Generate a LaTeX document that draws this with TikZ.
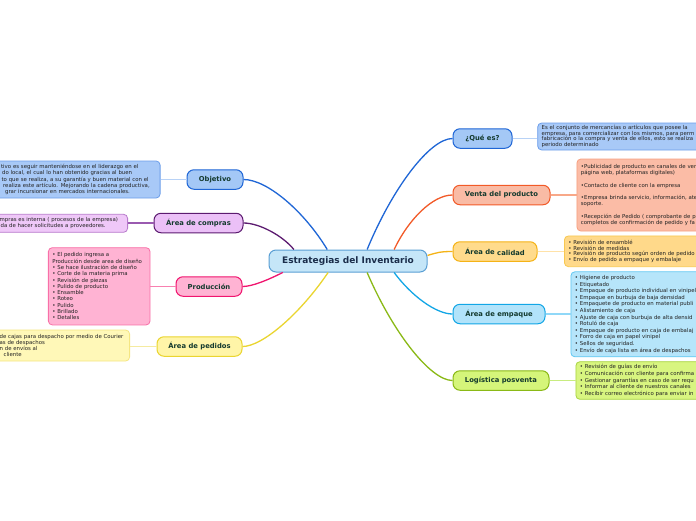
\documentclass[tikz,border=0pt]{standalone}
\usepackage{fontspec}
\setmainfont{DejaVu Sans}
\usetikzlibrary{calc}
\definecolor{cenfill}{HTML}{C5E6F8}
\definecolor{cenline}{HTML}{5A9FD4}
\definecolor{titlecol}{HTML}{1B2E4B}
\definecolor{labelcol}{HTML}{143A2E}
\definecolor{smallcol}{HTML}{222222}
% Objetivo / Que es (blue)
\definecolor{bluefill}{HTML}{A4C8F6}
\definecolor{blueline}{HTML}{1F66D6}
\definecolor{bluetfill}{HTML}{A8C9F7}
\definecolor{bluetline}{HTML}{6C9EEA}
\definecolor{bluelink}{HTML}{B8D2F6}
% compras (purple)
\definecolor{purfill}{HTML}{EBC0F7}
\definecolor{purline}{HTML}{5C1B70}
\definecolor{purtfill}{HTML}{EFC8F8}
\definecolor{purtline}{HTML}{B77ACB}
\definecolor{purlink}{HTML}{9A5AB0}
% produccion (pink)
\definecolor{pinkfill}{HTML}{FFB3D3}
\definecolor{pinkline}{HTML}{F0146E}
\definecolor{pinktline}{HTML}{F870A8}
\definecolor{pinklink}{HTML}{F880B0}
% pedidos (yellow)
\definecolor{yelfill}{HTML}{FFF5A8}
\definecolor{yelline}{HTML}{EAD530}
\definecolor{yeltfill}{HTML}{FFF8B8}
\definecolor{yeltline}{HTML}{F5E682}
\definecolor{yellink}{HTML}{F5EBA0}
% venta (orange)
\definecolor{orfill}{HTML}{F9BBA5}
\definecolor{orline}{HTML}{F25A28}
\definecolor{ortfill}{HTML}{FBBCA6}
\definecolor{ortline}{HTML}{F8A080}
\definecolor{orlink}{HTML}{F8A888}
% calidad (gold)
\definecolor{golfill}{HTML}{FFDB8C}
\definecolor{golline}{HTML}{F5B316}
\definecolor{goltfill}{HTML}{FFD98A}
\definecolor{goltline}{HTML}{F8C850}
\definecolor{gollink}{HTML}{FFE2A8}
% empaque (cyan)
\definecolor{cyfill}{HTML}{B2E3FA}
\definecolor{cyline}{HTML}{12A6E6}
\definecolor{cytfill}{HTML}{B6E5FA}
\definecolor{cytline}{HTML}{60C8F2}
\definecolor{cylink}{HTML}{90D8F8}
% logistica (green)
\definecolor{grfill}{HTML}{D5F57A}
\definecolor{grline}{HTML}{8AB916}
\definecolor{grtfill}{HTML}{D8F580}
\definecolor{grtline}{HTML}{A8D440}
\definecolor{grlink}{HTML}{C8EC80}
\newcommand{\nbl}[1]{\mbox{#1}}
\begin{document}
\begin{tikzpicture}[x=1pt,y=-1pt,
  lbl/.style={draw, line width=1pt, rounded corners=7pt, inner sep=0pt,
    font=\fontsize{6.8}{8}\selectfont\bfseries, text=labelcol, minimum height=19.5pt},
  tbox/.style={draw, line width=0.8pt, rounded corners=4pt, inner ysep=0pt, inner xsep=4pt,
    align=left, font=\fontsize{5.4}{6.3}\selectfont, text=smallcol},
  conn/.style={line width=1.3pt},
  link/.style={line width=1.1pt}]
\useasboundingbox (0,0) rectangle (696,520);
\fill[white] (0,0) rectangle (696,520);
\clip (0,0) rectangle (696,520);

% center
\node[lbl, fill=cenfill, draw=cenline, minimum width=158pt, minimum height=22pt,
  font=\fontsize{9}{11}\selectfont\bfseries, text=titlecol] (c) at (348,261) {Estrategias del Inventario};

% left branches
\node[lbl, fill=bluefill, draw=blueline, minimum width=56pt] (obj) at (215,179.5) {Objetivo};
\node[lbl, fill=purfill, draw=purline, minimum width=89pt] (com) at (198.5,223) {Área de compras};
\node[lbl, fill=pinkfill, draw=pinkline, minimum width=66pt] (pro) at (209,286.5) {Producción};
\node[lbl, fill=yelfill, draw=yelline, minimum width=85pt] (ped) at (199.5,346.5) {Área de pedidos};

% right branches
\node[lbl, fill=bluefill, draw=blueline, minimum width=59pt] (que) at (482.5,138.5) {¿Qué es?};
\node[lbl, fill=orfill, draw=orline, minimum width=97pt] (ven) at (501.5,195) {Venta del producto};
\node[lbl, fill=golfill, draw=golline, minimum width=84pt] (cal) at (495,251.5) {Área de \raisebox{-0.8pt}{calidad}};
\node[lbl, fill=cyfill, draw=cyline, minimum width=92pt] (emp) at (499,314) {Área de \raisebox{-0.8pt}{empaque}};
\node[lbl, fill=grfill, draw=grline, minimum width=96pt] (log) at (501,380.5) {Logístic\raisebox{-0.8pt}{a posventa}};

% main connectors
\draw[conn, blueline] (c.151) .. controls +(-23,-38) and +(23.8,0) .. (obj.east);
\draw[conn, purline] (c.168.9) .. controls +(-11.2,-13.8) and +(15.8,0) .. (com.east);
\draw[conn, pinkline] (c.190.2) .. controls +(-16,8) and +(9.4,0) .. (pro.east);
\draw[conn, yelline] (c.210) .. controls +(-27.7,41) and +(20,0) .. (ped.east);
\draw[conn, blueline] (c.31.4) .. controls +(25,-60.8) and +(-22.8,0) .. (que.west);
\draw[conn, orline] (c.14.4) .. controls +(14,-29.7) and +(-20,0) .. (ven.west);
\draw[conn, golline] (c.4.3) .. controls +(10,-3) and +(-12,0) .. (cal.west);
\draw[conn, cyline] (c.-14) .. controls +(17.3,23.5) and +(-16.3,0) .. (emp.west);
\draw[conn, grline] (c.-31.4) .. controls +(25.7,60) and +(-22,0) .. (log.west);

% text boxes (left)
\node[tbox, fill=bluetfill, draw=bluetline, text width=156pt, minimum height=37pt, anchor=east] (objT) at (160.5,179.5) {%
\nbl{\hspace*{1pt}tivo es seguir manteniéndose en el liderazgo en el}\\
\nbl{\hspace*{2pt}do local, el cual lo han obtenido gracias al buen}\\
\nbl{\hspace*{1.5pt}to que se realiza, a su garantía y buen material con el}\\
\nbl{\hspace*{3pt}realiza este artículo. Mejorando la cadena productiva,}\\
\nbl{\hspace*{5pt}grar incursionar en mercados internacionales.}};
\node[tbox, fill=purtfill, draw=purtline, text width=124pt, minimum height=18pt, anchor=east] (comT) at (128,223.3) {%
\nbl{mpras es interna ( procesos de la empresa)}\\
\nbl{\hspace*{1pt}da de hacer solicitudes a proveedores.}};
\node[tbox, fill=pinkfill, draw=pinktline, text width=93.7pt, minimum height=77.3pt] (proT) at (99.2,286.3) {%
• El pedido ingresa a\\
\nbl{Producción desde area de diseño}\\
\nbl{• Se hace ilustración de diseño}\\
• Corte de la materia prima\\
• Revisión de piezas\\
• Pulido de producto\\
• Ensamble\\
• Roteo\\
• Pulido\\
• Brillado\\
• Detalles};
\node[tbox, fill=yeltfill, draw=yeltline, text width=126pt, minimum height=31pt, anchor=east] (pedT) at (130,345.5) {%
\nbl{de cajas para despacho por medio de Courier}\\
as de despachos\\
n de envíos al\\
\hspace*{4pt}cliente};

% text boxes (right)
\node[tbox, fill=bluetfill, draw=bluetline, text width=200pt, minimum height=27pt, anchor=west,
  font=\fontsize{5.4}{5.6}\selectfont] (queT) at (537.3,136.5) {%
Es el conjunto de mercancías o artículos que posee la\\
empresa, para comercializar con los mismos, para perm\\
fabricación o la compra y venta de ellos, esto se realiza\\
periodo determinado};
\node[tbox, fill=ortfill, draw=ortline, text width=200pt, minimum height=72pt, anchor=west] (venT) at (576.5,195) {%
•Publicidad de producto en canales de ven\\
página web, plataformas digitales)\\[6.3pt]
•Contacto de cliente con la empresa\\[6.3pt]
•Empresa brinda servicio, información, ate\\
soporte.\\[6.3pt]
•Recepción de Pedido ( comprobante de p\\
completos de confirmación de pedido y fa};
\node[tbox, fill=goltfill, draw=goltline, text width=200pt, minimum height=30.7pt, anchor=west,
  font=\fontsize{5.4}{5.8}\selectfont] (calT) at (564,251.3) {%
• Revisión de ensamblé\\
• Revisión de medidas\\
• Revisión de producto según orden de pedido\\
• Envío de pedido a empaque y embalaje};
\node[tbox, fill=cytfill, draw=cytline, text width=200pt, minimum height=85pt, anchor=west,
  font=\fontsize{5.4}{6.6}\selectfont] (empT) at (570.5,314.3) {%
• Higiene de producto\\
• Etiquetado\\
• Empaque de producto individual en vinipel\\
• Empaque en burbuja de baja densidad\\
• Empaquete de producto en material publi\\
• Alistamiento de caja\\
• Ajuste de caja con burbuja de alta densid\\
• Rotuló de caja\\
• Empaque de producto en caja de embalaj\\
• Forro de caja en papel vinipel\\
• Sellos de seguridad.\\
• Envío de caja lista en área de despachos};
\node[tbox, fill=grtfill, draw=grtline, text width=200pt, minimum height=37.6pt, anchor=west,
  font=\fontsize{5.4}{6.6}\selectfont] (logT) at (575.5,380.5) {%
• Revisión de guías de envío\\
• Comunicación con cliente para confirma\\
• Gestionar garantías en caso de ser requ\\
• Informar al cliente de nuestros canales\\
• Recibir correo electrónico para enviar in};

% links node -> text box
\draw[link, bluelink] (obj.west) -- (objT.east |- obj.west);
\draw[link, purlink] (com.west) -- (comT.east |- com.west);
\draw[link, pinklink] (pro.west) -- (proT.east |- pro.west);
\draw[link, yellink] (ped.west) -- (pedT.east |- ped.west);
\draw[link, bluelink] (que.east) -- (queT.west |- que.east);
\draw[link, orlink] (ven.east) -- (venT.west |- ven.east);
\draw[link, gollink] (cal.east) -- (calT.west |- cal.east);
\draw[link, cylink] (emp.east) -- (empT.west |- emp.east);
\draw[link, grlink] (log.east) -- (logT.west |- log.east);
\end{tikzpicture}
\end{document}
